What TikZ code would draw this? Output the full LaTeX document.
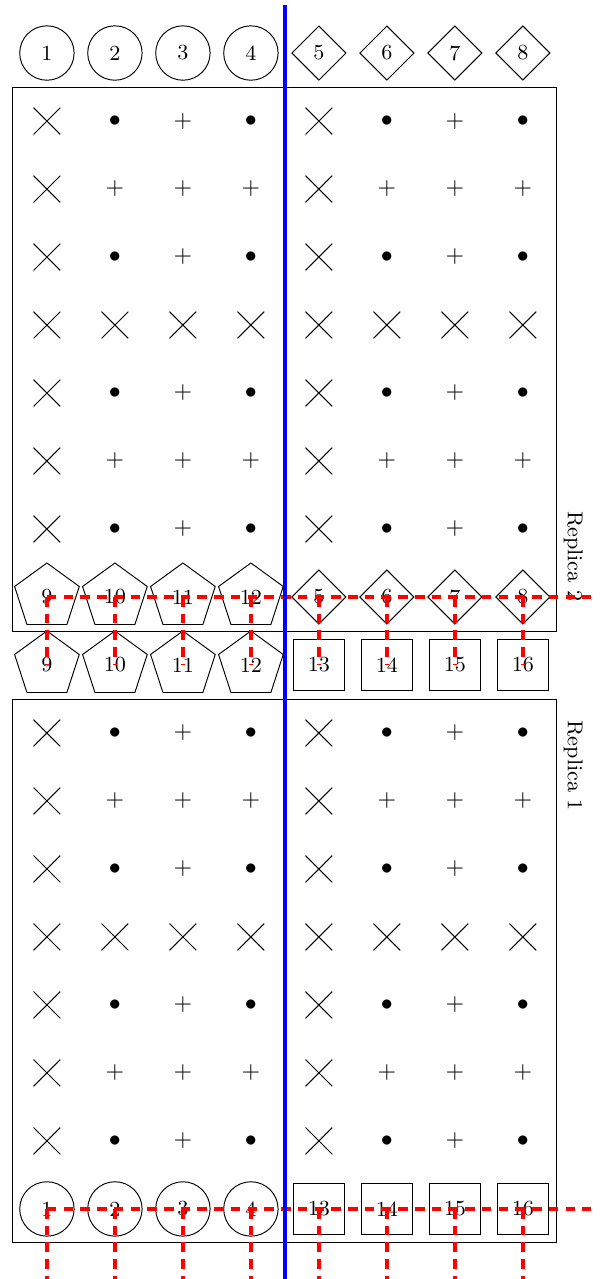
\documentclass[tikz,border=0pt]{standalone}
\usepackage{tikz}
\usetikzlibrary{shapes.geometric,shapes.misc}
\tikzset{
  qcirc/.style={circle, draw, minimum size=8mm, inner sep=0pt, font=\small},
  qdiam/.style={diamond, draw, minimum size=8mm, inner sep=0pt, font=\small},
  qsq/.style={rectangle, draw, minimum size=7.6mm, inner sep=0pt, font=\small},
  qpent/.style={regular polygon, regular polygon sides=5, draw, minimum size=10mm,
    inner sep=0pt, font=\small},
  xmark/.style={cross out, draw, minimum size=3.8mm, inner sep=0pt},
  smark/.style={inner sep=0pt},
  cutline/.style={red, ultra thick, dash pattern=on 4pt off 3pt},
  splitline/.style={blue, ultra thick},
  replica/.style={rotate=-90, font=\small}
}

\begin{document}
\begin{tikzpicture}
  \useasboundingbox (-0.69,-1.03) rectangle (8.25,17.78);
  % replica frames
  \draw (-0.5,8.5) rectangle (7.5,16.5);
  \draw (-0.5,-0.5) rectangle (7.5,7.5);
  \node[replica] (rep2) at (7.74,9.6) {Replica 2};
  \node[replica] (rep1) at (7.74,6.52) {Replica 1};
  % boundary rows
  \foreach \c in {1,...,4} {
    \node[qcirc] (r2top-\c) at (\c-1,17) {\c};
    \node[qcirc] (r1bot-\c) at (\c-1,0) {\c};
  }
  \foreach \c in {5,...,8} \node[qdiam] (r2top-\c) at (\c-1,17) {\c};
  \foreach \c/\n in {1/9,2/10,3/11,4/12} {
    \node[qpent] (r2bot-\c) at (\c-1,9) {\n};
    \node[qpent] (r1top-\c) at (\c-1,8) {\n};
  }
  \foreach \c in {5,...,8} \node[qdiam] (r2bot-\c) at (\c-1,9) {\c};
  \foreach \c/\n in {5/13,6/14,7/15,8/16} {
    \node[qsq] (r1top-\c) at (\c-1,8) {\n};
    \node[qsq] (r1bot-\c) at (\c-1,0) {\n};
  }
  % bulk markers
  \foreach \y in {1,3,5,7,10,12,14,16} {
    \foreach \x in {0,4} \node[xmark] (m-\x-\y) at (\x,\y) {};
    \foreach \x in {1,3,5,7} \node[smark] (m-\x-\y) at (\x,\y) {$\bullet$};
    \foreach \x in {2,6} \node[smark] (m-\x-\y) at (\x,\y) {$+$};
  }
  \foreach \y in {2,6,11,15} {
    \foreach \x in {0,4} \node[xmark] (m-\x-\y) at (\x,\y) {};
    \foreach \x in {1,2,3,5,6,7} \node[smark] (m-\x-\y) at (\x,\y) {$+$};
  }
  \foreach \y in {4,13}
    \foreach \x in {0,...,7} \node[xmark] (m-\x-\y) at (\x,\y) {};
  % cuts
  \coordinate (cut2end) at (8,9);
  \coordinate (cut1end) at (8,0);
  \draw[cutline] (r2bot-1.center) -- (cut2end);
  \draw[cutline] (r1bot-1.center) -- (cut1end);
  \foreach \c in {1,...,8} {
    \coordinate (drop-\c) at (\c-1,-1.03);
    \draw[cutline] (r2bot-\c.center) -- (r1top-\c.center);
    \draw[cutline] (r1bot-\c.center) -- (drop-\c);
  }
  \coordinate (splitN) at (3.5,17.7);
  \coordinate (splitS) at (3.5,-1.03);
  \draw[splitline] (splitN) -- (splitS);
\end{tikzpicture}
\end{document}
